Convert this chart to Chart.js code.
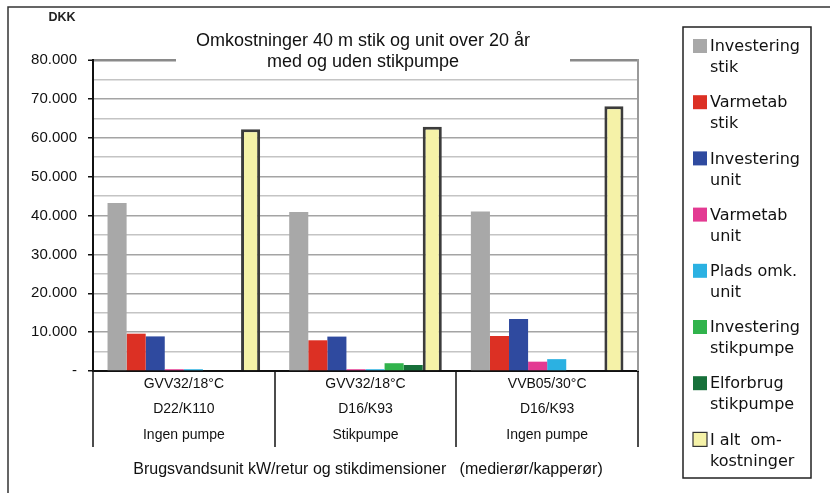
<!DOCTYPE html>
<html>
<head>
<meta charset="utf-8">
<script src="https://cdn.jsdelivr.net/npm/chart.js@4.4.1/dist/chart.umd.min.js"></script>
<style>
  html, body { margin: 0; padding: 0; background: #fff; }
  #wrap { position: relative; width: 830px; height: 493px; }
</style>
</head>
<body>
<div id="wrap"><canvas id="c" width="830" height="493"></canvas></div>
<script>
// Categories: unit type / pipe dimension / pump option
const categories = [
  ['GVV32/18°C', 'D22/K110', 'Ingen pumpe'],
  ['GVV32/18°C', 'D16/K93', 'Stikpumpe'],
  ['VVB05/30°C', 'D16/K93', 'Ingen pumpe']
];

// Costs over 20 years, DKK
const investeringStik   = [43200, 40900, 41000];
const varmetabStik      = [9600, 7900, 9000];
const investeringUnit   = [8900, 8850, 13400];
const varmetabUnit      = [450, 450, 2400];
const pladsOmkUnit      = [450, 450, 3050];
const investeringPumpe  = [0, 2000, 0];
const elforbrugPumpe    = [0, 1550, 0];
const iAltOmkostninger  = [62200, 62800, 68100];

const seriesLabels = [
  ['Investering', 'stik'],
  ['Varmetab', 'stik'],
  ['Investering', 'unit'],
  ['Varmetab', 'unit'],
  ['Plads omk.', 'unit'],
  ['Investering', 'stikpumpe'],
  ['Elforbrug', 'stikpumpe'],
  ['I alt  om-', 'kostninger']
];
const seriesValues = [investeringStik, varmetabStik, investeringUnit, varmetabUnit,
  pladsOmkUnit, investeringPumpe, elforbrugPumpe, iAltOmkostninger];
const seriesColors = ['#a8a8a8', '#dc3024', '#2f4a9f', '#e33a92', '#2bb1e2', '#31b34c', '#17703a', '#f5f2a8'];

const yTicks = { min: 0, max: 80000, major: 10000, minor: 5000 };

const titleLines = ['Omkostninger 40 m stik og unit over 20 år', 'med og uden stikpumpe'];
const yUnit = 'DKK';
const xTitle = 'Brugsvandsunit kW/retur og stikdimensioner   (medierør/kapperør)';

const FONT = '"Liberation Sans", Arial, sans-serif';

function fmtDKK(v) {
  if (v === 0) return '-';
  return String(v).replace(/\B(?=(\d{3})+(?!\d))/g, '.');
}

const datasets = seriesValues.map((vals, i) => {
  const isTotal = i === seriesValues.length - 1;
  return {
    label: seriesLabels[i].join(' '),
    data: vals,
    backgroundColor: seriesColors[i],
    borderColor: isTotal ? '#3c3c3c' : seriesColors[i],
    borderWidth: isTotal ? 3 : 0,
    borderSkipped: isTotal ? 'bottom' : 'start',
    barPercentage: 1.0,
    categoryPercentage: 0.84
  };
});

// Frame, title box, category dividers, axis captions and legend
const decorations = {
  id: 'decorations',
  beforeDatasetsDraw(chart) {
    const { ctx, chartArea: a } = chart;
    ctx.save();
    // right border of the plot
    ctx.strokeStyle = '#9a9a9a';
    ctx.lineWidth = 2;
    ctx.beginPath();
    ctx.moveTo(a.right, a.top - 1);
    ctx.lineTo(a.right, a.bottom);
    ctx.stroke();
    ctx.restore();
  },
  afterDraw(chart) {
    const { ctx, chartArea: a, scales } = chart;
    const x = scales.x;
    ctx.save();

    // outer frame (top and left)
    ctx.strokeStyle = '#333';
    ctx.lineWidth = 1.5;
    ctx.beginPath();
    ctx.moveTo(8, 493);
    ctx.lineTo(8, 7);
    ctx.lineTo(830, 7);
    ctx.stroke();

    // title panel over the top gridlines
    ctx.fillStyle = '#fff';
    ctx.fillRect(176, 22, 394, 56);
    ctx.fillStyle = '#111';
    ctx.font = '18px ' + FONT;
    ctx.textAlign = 'center';
    ctx.textBaseline = 'middle';
    ctx.fillText(titleLines[0], 363, 41);
    ctx.fillText(titleLines[1], 363, 62);

    // unit caption
    ctx.font = 'bold 12.5px ' + FONT;
    ctx.fillStyle = '#222';
    ctx.fillText(yUnit, 62, 18);

    // category dividers below the axis
    ctx.strokeStyle = '#111';
    ctx.lineWidth = 1.5;
    const n = categories.length;
    const half = (x.getPixelForValue(1) - x.getPixelForValue(0)) / 2;
    for (let i = 0; i <= n; i++) {
      const px = Math.round(i < n ? x.getPixelForValue(i) - half : x.getPixelForValue(n - 1) + half);
      ctx.beginPath();
      ctx.moveTo(px, a.bottom);
      ctx.lineTo(px, a.bottom + 76);
      ctx.stroke();
    }

    // x axis title
    ctx.font = '16px ' + FONT;
    ctx.fillStyle = '#111';
    ctx.fillText(xTitle, 368, 470);

    // legend
    const lx = 683, ly = 27, lw = 128, lh = 451;
    ctx.strokeStyle = '#222';
    ctx.lineWidth = 1.5;
    ctx.strokeRect(lx, ly, lw, lh);
    ctx.font = '16px "DejaVu Sans", Verdana, sans-serif';
    ctx.textAlign = 'left';
    chart.data.datasets.forEach((ds, i) => {
      const y0 = 46 + i * 56.2;
      ctx.fillStyle = ds.backgroundColor;
      ctx.fillRect(693, y0 - 7, 14, 14);
      if (ds.borderWidth) {
        ctx.strokeStyle = '#333';
        ctx.lineWidth = 1.2;
        ctx.strokeRect(693, y0 - 7, 14, 14);
      }
      ctx.fillStyle = '#111';
      ctx.fillText(seriesLabels[i][0], 710, y0 + 1);
      ctx.fillText(seriesLabels[i][1], 710, y0 + 22);
    });
    ctx.restore();
  }
};

new Chart(document.getElementById('c'), {
  type: 'bar',
  data: { labels: categories, datasets },
  options: {
    responsive: false,
    animation: false,
    layout: { padding: { left: 0, right: 192, top: 60, bottom: 46 } },
    plugins: { legend: { display: false }, title: { display: false }, tooltip: { enabled: false } },
    scales: {
      x: {
        grid: { display: false, drawTicks: false },
        border: { display: true, color: '#111', width: 2 },
        ticks: {
          color: '#111',
          font: { family: FONT, size: 14, lineHeight: 1.83 },
          padding: 0,
          maxRotation: 0,
          autoSkip: false
        },
        afterFit(s) { s.height = 76; }
      },
      y: {
        min: yTicks.min,
        max: yTicks.max,
        afterFit(s) { s.width = 93; },
        border: { display: true, color: '#111', width: 2 },
        grid: {
          color: c => c.tick.value === yTicks.max ? '#8a8a8a' : (c.tick.value % yTicks.major === 0 ? '#a4a4a4' : '#c4c4c4'),
          lineWidth: c => c.tick.value === yTicks.max ? 2.5 : 1.5,
          tickColor: c => c.tick.value % yTicks.major === 0 ? '#111' : 'rgba(0,0,0,0)',
          tickLength: 5,
          tickWidth: 1.5
        },
        ticks: {
          stepSize: yTicks.minor,
          autoSkip: false,
          color: '#111',
          padding: 11,
          font: { family: FONT, size: 15 },
          callback: v => v % yTicks.major === 0 ? fmtDKK(v) : ''
        }
      }
    }
  },
  plugins: [decorations]
});
</script>
</body>
</html>
